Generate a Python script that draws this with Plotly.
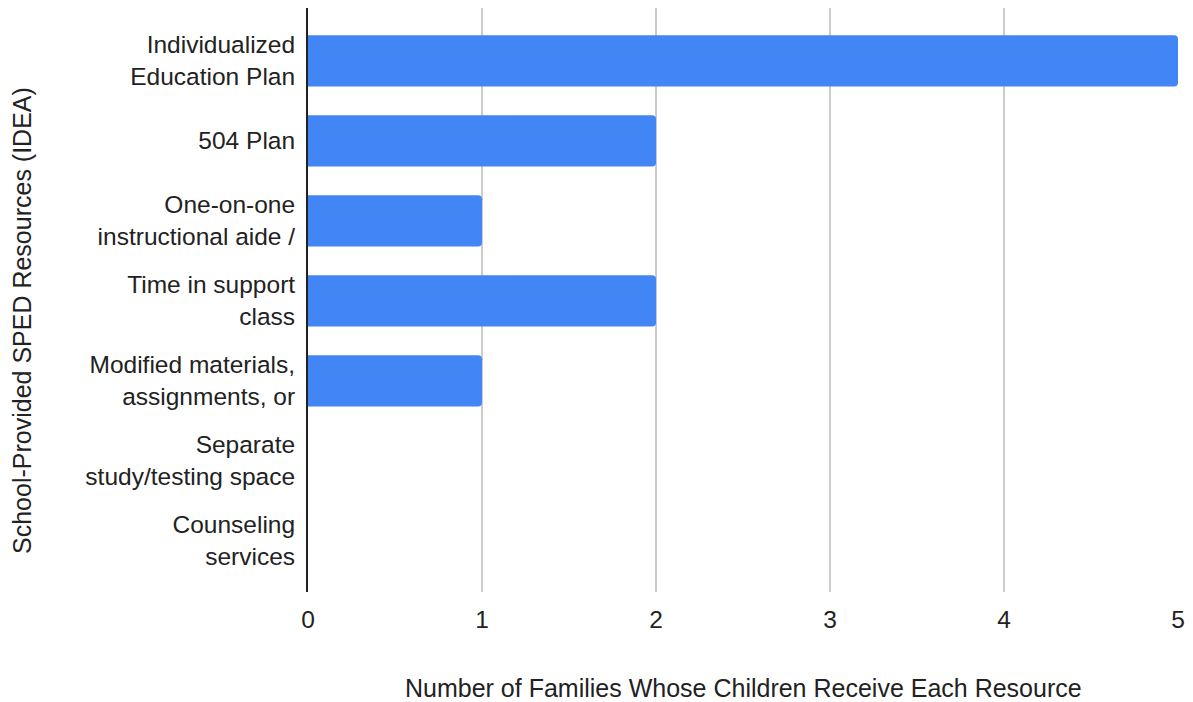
import plotly.graph_objects as go

categories = [
    "Individualized<br>Education Plan",
    "504 Plan",
    "One-on-one<br>instructional aide /",
    "Time in support<br>class",
    "Modified materials,<br>assignments, or",
    "Separate<br>study/testing space",
    "Counseling<br>services",
]
values = [5, 2, 1, 2, 1, 0, 0]
x_ticks = [0, 1, 2, 3, 4, 5]

FONT = "Liberation Sans"
FS = 24.5
TS = 25

fig = go.Figure(go.Bar(
    y=categories, x=values, orientation="h",
    marker=dict(color="#4285F4", line=dict(width=0)),
    width=0.64,
))

fig.update_layout(
    width=1193, height=702,
    margin=dict(l=308, r=15, t=8, b=110),
    paper_bgcolor="white", plot_bgcolor="white",
    font=dict(family=FONT, size=FS, color="#222222"),
    barcornerradius=4,
    showlegend=False,
    xaxis=dict(
        range=[0, 5], tickvals=x_ticks, showgrid=True, gridcolor="#cccccc", gridwidth=2,
        zeroline=False, showline=False, ticks="", ticklabelstandoff=10,
        tickfont=dict(family=FONT, size=FS, color="#222222"),
    ),
    yaxis=dict(
        categoryorder="array", categoryarray=categories,
        range=[6.64, -0.66], showgrid=False, zeroline=False,
        showline=True, linecolor="#222222", linewidth=2, ticks="",
        ticklabelstandoff=6, tickfont=dict(family=FONT, size=FS, color="#222222"),
    ),
    annotations=[
        dict(text="Number of Families Whose Children Receive Each Resource",
             xref="paper", yref="paper", x=0.5, y=0, yshift=-96, showarrow=False,
             xanchor="center", yanchor="middle", font=dict(family=FONT, size=TS, color="#222222")),
        dict(text="School-Provided SPED Resources (IDEA)",
             xref="paper", yref="paper", x=0, xshift=-286, y=0.5, yshift=-21, showarrow=False,
             textangle=-90, xanchor="center", yanchor="middle", font=dict(family=FONT, size=TS, color="#222222")),
    ],
)

fig.write_html("out.html")
